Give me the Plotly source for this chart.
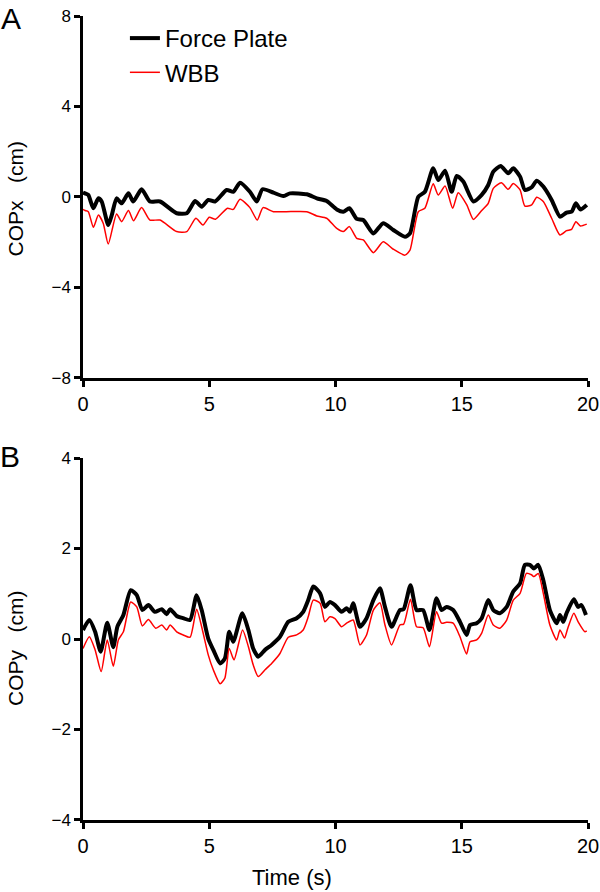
import plotly.graph_objects as go

# ---------------- Data ----------------
# Panel A: COPx (cm)
a_fp_t = [0.0, 0.08, 0.21, 0.41, 0.61, 0.74, 1.0, 1.14, 1.33, 1.53, 1.80, 1.99, 2.32, 2.65, 3.05,
          3.71, 4.11, 4.44, 4.70, 4.96, 5.23, 5.69, 5.95, 6.22, 6.61, 6.88, 7.11, 7.54, 7.93, 8.2,
          8.86, 9.26, 9.65, 10.05, 10.31, 10.55, 10.84, 11.1, 11.5, 11.89, 12.29, 12.75, 12.95,
          13.28, 13.54, 13.87, 14.07, 14.34, 14.6, 14.8, 15.06, 15.46, 15.79, 16.05, 16.25, 16.54,
          16.84, 17.04, 17.31, 17.5, 17.77, 17.97, 18.23, 18.56, 18.89, 19.15, 19.35, 19.52, 19.7,
          19.95]
a_fp_v = [0.2, 0.16, 0.09, -0.5, -0.06, -0.2, -1.24, -0.8, -0.06, -0.28, 0.16, -0.2, 0.34, -0.2, -0.2,
          -0.72, -0.72, -0.18, -0.43, -0.13, -0.2, 0.31, 0.23, 0.63, 0.23, -0.2, 0.34, 0.19, 0.04, 0.16,
          0.12, -0.06, -0.18, -0.55, -0.65, -0.5, -0.97, -1.02, -1.61, -1.16, -1.46, -1.76, -1.61,
          0.01, 0.23, 1.27, 0.75, 1.16, 0.23, 0.93, 0.68, -0.2, 0.09, 0.53, 1.12, 1.37,
          1.05, 1.27, 0.9, 0.31, 0.43, 0.72, 0.46, -0.13, -0.87, -0.69, -0.65, -0.28, -0.55,
          -0.35]

a_wbb_t = [0.0, 0.08, 0.21, 0.41, 0.61, 0.8, 1.0, 1.33, 1.53, 1.80, 2.0, 2.32, 2.65, 3.05, 3.71,
           4.11, 4.47, 4.75, 5.0, 5.25, 5.72, 5.95, 6.22, 6.61, 6.9, 7.13, 7.54, 8.05, 8.86, 9.26,
           9.65, 10.05, 10.31, 10.55, 10.84, 11.1, 11.5, 11.89, 12.29, 12.75, 12.95, 13.28, 13.54,
           13.87, 14.07, 14.34, 14.64, 14.86, 15.2, 15.46, 15.79, 16.05, 16.25, 16.57, 16.84, 17.04,
           17.31, 17.5, 17.77, 17.97, 18.23, 18.56, 18.89, 19.15, 19.35, 19.52, 19.7, 19.95]
a_wbb_v = [-0.55, -0.6, -0.65, -1.34, -0.8, -1.16, -2.08, -0.75, -1.09, -0.6, -1.05, -0.47, -1.02, -1.02, -1.53,
           -1.53, -0.94, -1.24, -0.9, -0.98, -0.5, -0.55, -0.1, -0.47, -1.02, -0.47, -0.65, -0.65, -0.65, -0.84,
           -0.94, -1.39, -1.53, -1.31, -1.83, -1.9, -2.46, -1.98, -2.31, -2.57, -2.35, -0.65, -0.5,
           0.58, 0.09, 0.49, -0.5, 0.19, -0.35, -0.99, -0.6, -0.28, 0.38, 0.63, 0.34, 0.6,
           0.31, -0.4, -0.35, -0.01, -0.2, -0.94, -1.68, -1.49, -1.43, -1.09, -1.28, -1.2]

# Panel B: COPy (cm)
b_fp_t = [0.0, 0.25, 0.48, 0.70, 0.96, 1.20, 1.36, 1.6, 1.89, 2.13, 2.35, 2.59, 2.85, 3.12, 3.31,
          3.45, 3.71, 3.97, 4.24, 4.5, 4.7, 4.96, 5.16, 5.43, 5.62, 5.79, 5.95, 6.31, 6.55, 6.74,
          6.94, 7.21, 7.47, 7.8, 8.13, 8.46, 8.72, 8.92, 9.12, 9.39, 9.58, 9.78, 9.98, 10.24, 10.44,
          10.57, 10.7, 10.97, 11.23, 11.5, 11.76, 11.96, 12.22, 12.55, 12.7, 12.97, 13.21, 13.47,
          13.72, 14.0, 14.2, 14.4, 14.66, 14.93, 15.19, 15.33, 15.59, 15.79, 16.05, 16.25, 16.51,
          16.78, 17.04, 17.31, 17.5, 17.7, 17.86, 18.03, 18.23, 18.49, 18.76, 18.89, 19.02, 19.15,
          19.44, 19.61, 19.74, 19.92]
b_fp_v = [0.2, 0.42, 0.16, -0.28, 0.36, -0.18, 0.27, 0.53, 1.08, 0.97, 0.64, 0.75, 0.6, 0.66, 0.55,
          0.66, 0.51, 0.46, 0.42, 0.97, 0.64, 0.01, -0.24, -0.54, -0.43, 0.16, -0.06, 0.57, 0.2, -0.21,
          -0.39, -0.24, -0.13, 0.05, 0.38, 0.46, 0.6, 0.86, 1.16, 1.01, 0.71, 0.82, 0.75, 0.6, 0.68,
          0.6, 0.79, 0.27, 0.46, 0.86, 1.12, 0.71, 0.27, 0.64, 0.66, 1.19, 0.64, 0.64,
          0.2, 0.9, 0.64, 0.71, 0.64, 0.38, 0.09, 0.31, 0.35, 0.46, 0.86, 0.64, 0.57,
          0.71, 1.05, 1.23, 1.64, 1.64, 1.56, 1.64, 1.3, 0.64, 0.35, 0.53, 0.38, 0.57,
          0.88, 0.71, 0.75, 0.53]

b_wbb_t = [0.0, 0.25, 0.48, 0.72, 0.96, 1.20, 1.40, 1.6, 1.89, 2.13, 2.35, 2.59, 2.88, 3.12, 3.31,
           3.45, 3.71, 3.97, 4.24, 4.5, 4.73, 4.96, 5.16, 5.43, 5.62, 5.79, 5.98, 6.32, 6.55, 6.74,
           6.94, 7.21, 7.47, 7.8, 8.13, 8.46, 8.72, 8.92, 9.12, 9.39, 9.58, 9.78, 9.98, 10.24, 10.44,
           10.7, 10.97, 11.23, 11.5, 11.76, 11.96, 12.22, 12.55, 12.7, 12.97, 13.21, 13.47, 13.72,
           14.0, 14.2, 14.4, 14.66, 14.93, 15.19, 15.33, 15.59, 15.79, 16.05, 16.25, 16.51, 16.78,
           17.04, 17.31, 17.56, 17.76, 17.86, 18.03, 18.23, 18.49, 18.76, 18.89, 19.07, 19.2, 19.44,
           19.61, 19.88, 19.95]
b_wbb_v = [-0.21, 0.05, -0.24, -0.72, -0.02, -0.6, -0.02, 0.16, 0.82, 0.71, 0.29, 0.43, 0.24, 0.31, 0.2,
           0.31, 0.16, 0.09, 0.04, 0.66, 0.2, -0.35, -0.68, -0.99, -0.86, -0.21, -0.46, 0.2, -0.17, -0.57,
           -0.83, -0.68, -0.54, -0.32, 0.04, 0.09, 0.2, 0.49, 0.86, 0.79, 0.38, 0.49, 0.45, 0.27, 0.35,
           0.42, -0.13, 0.09, 0.64, 0.8, 0.31, -0.13, 0.31, 0.33, 0.88, 0.27, 0.25, -0.17,
           0.6, 0.35, 0.37, 0.35, 0.05, -0.33, -0.06, -0.02, 0.13, 0.53, 0.31, 0.24, 0.42,
           0.86, 1.01, 1.45, 1.42, 1.38, 1.45, 1.01, 0.31, -0.02, 0.2, 0.02, 0.24, 0.57,
           0.38, 0.16, 0.18]

x_ticks = [0, 5, 10, 15, 20]
a_yticks = [-8, -4, 0, 4, 8]
b_yticks = [-4, -2, 0, 2, 4]
series_names = ["Force Plate", "WBB"]

# ---------------- Figure ----------------
FONT = "Arial, 'Liberation Sans', sans-serif"
fig = go.Figure()

fig.add_trace(go.Scatter(x=a_fp_t, y=a_fp_v, mode="lines", name=series_names[0],
                         legendgroup="fp", line=dict(color="black", width=4, shape="spline", smoothing=0.6),
                         xaxis="x", yaxis="y"))
fig.add_trace(go.Scatter(x=a_wbb_t, y=a_wbb_v, mode="lines", name=series_names[1],
                         legendgroup="wbb", line=dict(color="#ff0000", width=1.5, shape="spline", smoothing=0.6),
                         xaxis="x", yaxis="y"))
fig.add_trace(go.Scatter(x=b_fp_t, y=b_fp_v, mode="lines", name=series_names[0], showlegend=False,
                         line=dict(color="black", width=4, shape="spline", smoothing=0.6),
                         xaxis="x2", yaxis="y2"))
fig.add_trace(go.Scatter(x=b_wbb_t, y=b_wbb_v, mode="lines", name=series_names[1], showlegend=False,
                         line=dict(color="#ff0000", width=1.5, shape="spline", smoothing=0.6),
                         xaxis="x2", yaxis="y2"))

axis_common = dict(showgrid=False, zeroline=False, showline=True, linecolor="black", linewidth=2.5,
                   ticks="outside", ticklen=6, tickwidth=2.5, tickcolor="black", automargin=False)

fig.update_layout(
    width=600, height=892,
    paper_bgcolor="white", plot_bgcolor="white",
    margin=dict(l=83, r=12, t=16, b=72),
    font=dict(family=FONT, color="black"),
    showlegend=True,
    legend=dict(x=0.083, y=1.0, xanchor="left", yanchor="top", bgcolor="rgba(0,0,0,0)",
                font=dict(size=24, family=FONT, color="black"), tracegroupgap=0),
    xaxis=dict(domain=[0, 1], range=[0, 20], tickvals=x_ticks, anchor="y",
               tickfont=dict(size=20), **axis_common),
    yaxis=dict(domain=[0.5498, 1.0], range=[-8, 8], tickvals=a_yticks, anchor="x",
               tickfont=dict(size=17), **axis_common),
    xaxis2=dict(domain=[0, 1], range=[0, 20], tickvals=x_ticks, anchor="y2",
                tickfont=dict(size=20), **axis_common),
    yaxis2=dict(domain=[0.0, 0.4502], range=[-4, 4], tickvals=b_yticks, anchor="x2",
                tickfont=dict(size=17), **axis_common),
)

ann = [
    dict(text="A", x=-0.1426, y=1.0199, xref="paper", yref="paper", xanchor="center", yanchor="top",
         showarrow=False, font=dict(size=30)),
    dict(text="B", x=-0.1446, y=0.4527, xref="paper", yref="paper", xanchor="center", yanchor="middle",
         showarrow=False, font=dict(size=30)),
    dict(text="COPx\u00a0\u00a0\u00a0(cm)", x=-0.1327, y=0.773, xref="paper", yref="paper",
         xanchor="center", yanchor="middle", textangle=-90, showarrow=False, font=dict(size=21)),
    dict(text="COPy\u00a0\u00a0\u00a0(cm)", x=-0.1327, y=0.214, xref="paper", yref="paper",
         xanchor="center", yanchor="middle", textangle=-90, showarrow=False, font=dict(size=21)),
    dict(text="Time (s)", x=0.414, y=-0.0709, xref="paper", yref="paper", xanchor="center",
         yanchor="middle", showarrow=False, font=dict(size=22)),
]
fig.update_layout(annotations=ann)

# Remove the default 8px page margin so the 600x892 figure fills the window exactly.
fig.write_html("out.html", config={"displayModeBar": False},
               post_script="document.body.style.margin='0';")
